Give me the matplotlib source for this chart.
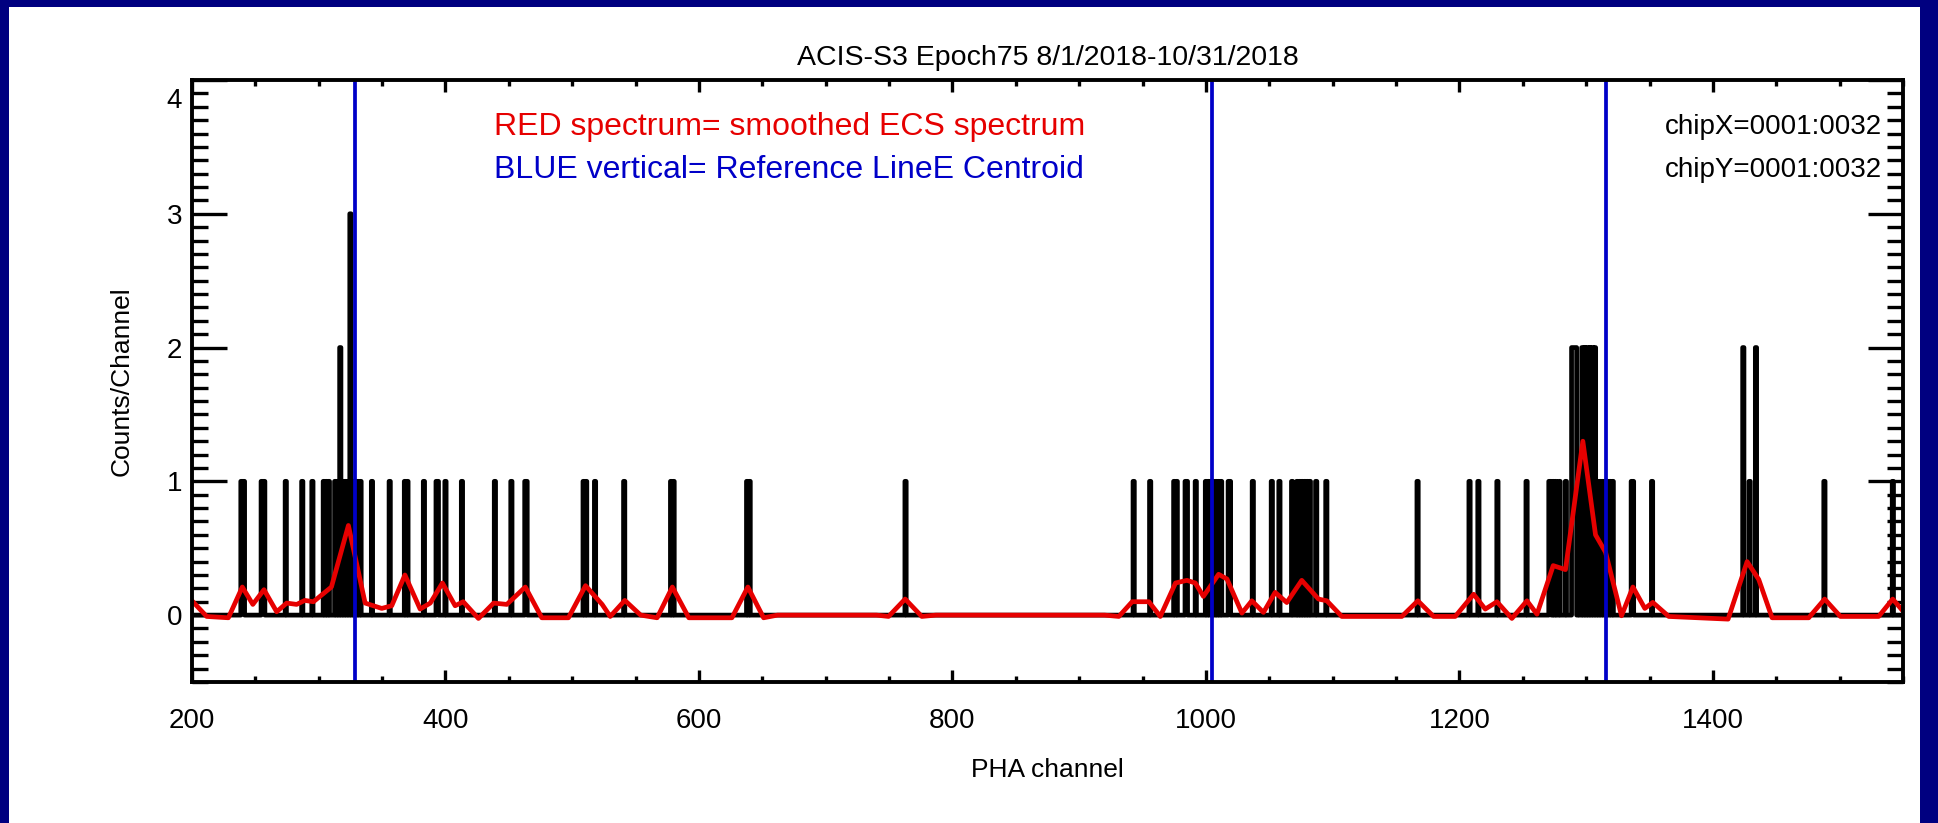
""" ACIS-S3 ECS spectrum, epoch 75, with smoothed curve and reference lines
"""
import numpy as np
import matplotlib
matplotlib.use("Agg")
import matplotlib.pyplot as plt
from matplotlib.patches import Rectangle
from matplotlib.ticker import MultipleLocator
from matplotlib.transforms import ScaledTranslation

plt.rcParams['font.family'] = ['Liberation Sans', 'DejaVu Sans']

# raw counts per PHA channel (channels not listed have 0 counts)
channels = [239, 240, 241, 255, 256, 257, 274, 287, 295, 304, 306, 308,
            313, 315, 317, 319, 321, 323, 325, 327, 329, 331, 333, 342,
            356, 368, 370, 383, 393, 394, 400, 413, 439, 452, 463, 464,
            509, 511, 518, 541, 578, 580, 638, 640,
            763, 943, 956, 975, 977, 984, 985, 992,
            1000, 1002, 1004, 1006, 1008, 1010, 1012, 1018, 1019, 1037,
            1052, 1058, 1068, 1072, 1074, 1076, 1078, 1080, 1082, 1087, 1095,
            1167, 1208, 1215, 1230, 1253, 1271, 1272, 1274, 1276, 1279, 1284,
            1289, 1290, 1291, 1292, 1294, 1297, 1299, 1301, 1303, 1305, 1307,
            1309, 1311, 1313, 1315, 1317, 1319, 1321, 1336, 1337, 1352,
            1424, 1429, 1434, 1488, 1542]
counts = [1, 1, 1, 1, 1, 1, 1, 1, 1, 1, 1, 1,
          1, 1, 2, 1, 1, 1, 3, 1, 1, 1, 1, 1,
          1, 1, 1, 1, 1, 1, 1, 1, 1, 1, 1, 1,
          1, 1, 1, 1, 1, 1, 1, 1,
          1, 1, 1, 1, 1, 1, 1, 1,
          1, 1, 1, 1, 1, 1, 1, 1, 1, 1,
          1, 1, 1, 1, 1, 1, 1, 1, 1, 1, 1,
          1, 1, 1, 1, 1, 1, 1, 1, 1, 1, 1,
          2, 2, 2, 2, 1, 2, 2, 2, 2, 2, 2,
          1, 1, 1, 1, 1, 1, 1, 1, 1, 1,
          2, 1, 2, 1, 1]

# smoothed ECS spectrum (red curve)
smooth_x = [200, 211.6, 228.7, 239.7, 248, 256.8, 266.8, 274.7, 282.6, 289,
            295.8, 310, 323.4, 336.6, 349.7, 357.6, 368, 380, 388, 397.6,
            407.6, 414, 426, 438, 448.4, 463, 476, 497, 510.5, 523.6,
            530, 541.5, 554, 567, 579, 592, 626, 638.6, 651, 662,
            740, 749.6, 762.7, 775.8, 787, 920, 931.3, 941.8, 955, 964,
            976, 985, 991.6, 998, 1010, 1016.6, 1028.4, 1036.2, 1045.4, 1054.6,
            1063.8, 1075.6, 1088.8, 1095.4, 1107.2, 1154.6, 1167.2, 1179.6,
            1196.7, 1211.2, 1220.4, 1229.6, 1241.4, 1253.3, 1261.2, 1274,
            1283.7, 1297.4, 1307.4, 1315.3, 1327.9, 1336.9, 1346.3, 1352.6,
            1365.2, 1412, 1427, 1436.2, 1446.7, 1475.6, 1488.2, 1500.6,
            1530.8, 1541.9, 1550]
smooth_y = [0.107, -0.01, -0.02, 0.21, 0.08, 0.19, 0.025, 0.09, 0.08, 0.11,
            0.10, 0.21, 0.67, 0.09, 0.05, 0.07, 0.30, 0.045, 0.09, 0.24,
            0.07, 0.10, -0.025, 0.09, 0.08, 0.21, -0.02, -0.02, 0.22, 0.08,
            -0.01, 0.11, 0.0, -0.02, 0.21, -0.02, -0.02, 0.21, -0.02, 0.0,
            0.0, -0.01, 0.12, -0.01, 0.0, 0.0, -0.01, 0.10, 0.10, -0.01,
            0.24, 0.26, 0.24, 0.14, 0.305, 0.27, 0.015, 0.107, 0.02, 0.17,
            0.094, 0.26, 0.12, 0.107, -0.01, -0.01, 0.107, -0.01,
            -0.01, 0.156, 0.045, 0.10, -0.025, 0.107, 0.007, 0.37,
            0.34, 1.30, 0.60, 0.47, -0.005, 0.21, 0.05, 0.095,
            -0.01, -0.03, 0.40, 0.266, -0.02, -0.02, 0.12, -0.01,
            -0.01, 0.12, 0.03]

# reference line centroids (blue)
ref_lines = [329, 1005, 1316]

# full histogram on the channel grid
chan_grid = np.arange(200, 1551)
hist = np.zeros(len(chan_grid))
hist[np.array(channels) - 200] = counts

W, H = 1938, 823
fig = plt.figure(figsize=(W / 100, H / 100), dpi=100, facecolor='#000080')
fig.add_artist(Rectangle((9 / W, 0), (1920 - 9) / W, 1 - 7 / H,
                         transform=fig.transFigure, facecolor='white',
                         edgecolor='none', zorder=-1))

ax = fig.add_axes([192 / W, 1 - 682 / H, (1903 - 192) / W, (682 - 80) / H])

ax.step(chan_grid, hist, where='mid', color='black', lw=3.4)
ax.plot(smooth_x, smooth_y, color='#e60000', lw=3.4)
for xr in ref_lines:
    ax.axvline(xr, color='#0000c8', lw=2.7)

ax.set_xlim(200, 1550)
ax.set_ylim(-0.5, 4)
ax.set_xticks(range(200, 1550, 200))
ax.xaxis.set_minor_locator(MultipleLocator(50))
ax.set_yticks(range(0, 5))
ax.yaxis.set_minor_locator(MultipleLocator(0.1))

for s in ax.spines.values():
    s.set_linewidth(2.8)
ax.tick_params(which='both', direction='in', top=True, right=True,
               width=2.4, labelsize=20)
ax.tick_params(axis='x', which='major', length=8.6, pad=19)
ax.tick_params(axis='x', which='minor', length=4.3)
ax.tick_params(axis='y', which='major', length=25, pad=7)
ax.tick_params(axis='y', which='minor', length=11.5)
top_lab = ax.get_yticklabels()[-1]
top_lab.set_transform(top_lab.get_transform()
                      + ScaledTranslation(0, -0.18, fig.dpi_scale_trans))

ax.set_xlabel('PHA channel', fontsize=19, va='center')
ax.xaxis.set_label_coords(0.5, (682 - 770) / (682 - 80))
ax.set_ylabel('Counts/Channel', fontsize=19, va='center')
ax.yaxis.set_label_coords((122 - 192) / (1903 - 192), 0.5)

fig.text(1048 / W, 1 - 58 / H, 'ACIS-S3 Epoch75 8/1/2018-10/31/2018',
         ha='center', va='center', fontsize=20.5)
fig.text(494 / W, 1 - 127 / H, 'RED spectrum= smoothed ECS spectrum',
         ha='left', va='center', fontsize=23, color='#e60000')
fig.text(494 / W, 1 - 170 / H, 'BLUE vertical= Reference LineE Centroid',
         ha='left', va='center', fontsize=23, color='#0000c8')
fig.text(1882 / W, 1 - 127 / H, 'chipX=0001:0032',
         ha='right', va='center', fontsize=20)
fig.text(1882 / W, 1 - 170 / H, 'chipY=0001:0032',
         ha='right', va='center', fontsize=20)

fig.savefig('out.png', dpi=100, facecolor=fig.get_facecolor())
